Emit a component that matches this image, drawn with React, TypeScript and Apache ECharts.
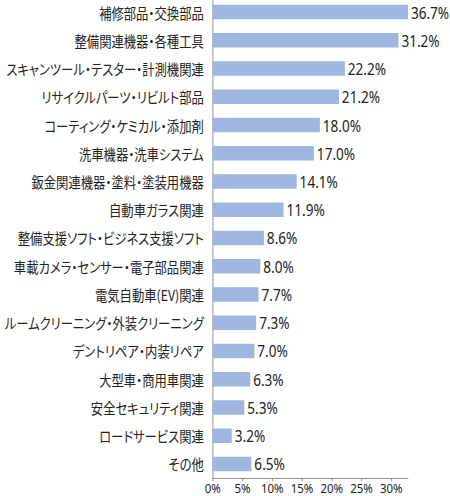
import React, { useEffect, useRef } from "react";
import * as echarts from "echarts";

const categories = [
  "補修部品・交換部品",
  "整備関連機器・各種工具",
  "スキャンツール・テスター・計測機関連",
  "リサイクルパーツ・リビルト部品",
  "コーティング・ケミカル・添加剤",
  "洗車機器・洗車システム",
  "鈑金関連機器・塗料・塗装用機器",
  "自動車ガラス関連",
  "整備支援ソフト・ビジネス支援ソフト",
  "車載カメラ・センサー・電子部品関連",
  "電気自動車(EV)関連",
  "ルームクリーニング・外装クリーニング",
  "デントリペア・内装リペア",
  "大型車・商用車関連",
  "安全セキュリティ関連",
  "ロードサービス関連",
  "その他",
];

const values = [36.7, 31.2, 22.2, 21.2, 18.0, 17.0, 14.1, 11.9, 8.6, 8.0, 7.7, 7.3, 7.0, 6.3, 5.3, 3.2, 6.5];

const xTicks = [0, 5, 10, 15, 20, 25, 30];

// horizontal condensation of the whole drawing (the reference uses a narrow typeface)
const SX = 0.85;
const W = 450 / SX;

export default function App() {
  const ref = useRef<HTMLDivElement>(null);
  useEffect(() => {
    if (!ref.current) return;
    const chart = echarts.init(ref.current, undefined, { renderer: "svg" });
    chart.setOption({
      animation: false,
      grid: {
        left: 212.7 / SX,
        right: 41.7 / SX,
        top: -2,
        height: 480,
        containLabel: false,
        outerBoundsMode: "none",
      },
      xAxis: {
        type: "value",
        min: 0,
        max: 32.8,
        interval: 5,
        splitLine: { show: false },
        axisLine: { show: true, lineStyle: { color: "#8a8a8a", width: 1 } },
        axisTick: { show: true, length: 3, customValues: xTicks, lineStyle: { color: "#8a8a8a" } },
        axisLabel: {
          customValues: xTicks,
          formatter: (v: number) => `${v}%`,
          color: "#222",
          fontSize: 13.5,
          fontFamily: "'Noto Sans', sans-serif",
          margin: 3,
          hideOverlap: false,
        },
      },
      yAxis: {
        type: "category",
        data: categories,
        inverse: true,
        axisLine: { show: true, lineStyle: { color: "#8a8a8a", width: 1 } },
        axisTick: { show: false },
        axisLabel: {
          color: "#222",
          fontSize: 14.5,
          fontFamily: "'Noto Sans CJK JP', sans-serif",
          margin: 10.5,
          interval: 0,
        },
      },
      series: [
        {
          type: "bar",
          data: values,
          barWidth: 14.5,
          clip: true,
          itemStyle: { color: "#9db7e0" },
          label: {
            show: true,
            position: "right",
            distance: 3.5,
            formatter: (p: any) => `${Number(p.value).toFixed(1)}%`,
            color: "#222",
            fontSize: 16,
            fontFamily: "'Noto Sans', sans-serif",
          },
        },
      ],
    });
    return () => chart.dispose();
  }, []);
  return (
    <div
      style={{
        position: "absolute",
        left: 0,
        top: 0,
        width: 450,
        height: 496,
        overflow: "hidden",
      }}
    >
      <div
        ref={ref}
        style={{
          width: W,
          height: 496,
          transform: `scaleX(${SX})`,
          transformOrigin: "0 0",
          fontFeatureSettings: '"palt"',
        }}
      />
    </div>
  );
}
